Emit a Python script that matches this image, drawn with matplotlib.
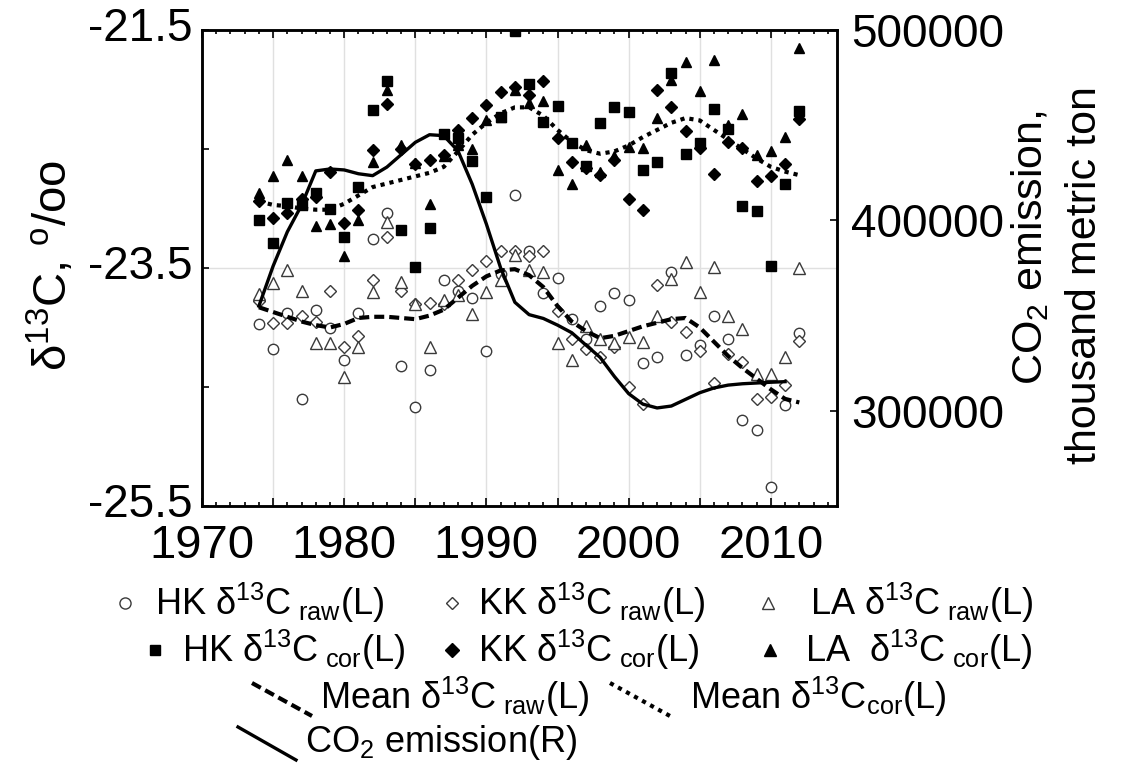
import numpy as np
import matplotlib
matplotlib.use('Agg')
import matplotlib.pyplot as plt
from matplotlib.lines import Line2D
from matplotlib.ticker import FixedLocator, FuncFormatter, MultipleLocator
from matplotlib.transforms import ScaledTranslation

plt.rcParams['font.family'] = ['Liberation Sans', 'DejaVu Sans']
plt.rcParams['mathtext.fontset'] = 'custom'
plt.rcParams['mathtext.rm'] = 'Liberation Sans'
plt.rcParams['mathtext.it'] = 'Liberation Sans:italic'
plt.rcParams['mathtext.bf'] = 'Liberation Sans:bold'

# ---------------- data ----------------
years = list(range(1974, 2013))

hk_raw = [-23.97, -24.18, -23.88, -24.60, -23.85, -24.00, -24.27, -23.88, -23.26, -23.04,
          -24.32, -24.67, -24.36, -23.60, -23.69, -23.75, -24.20, -23.55, -22.89, -23.36,
          -23.71, -23.58, -23.93, -24.10, -23.82, -23.71, -23.77, -24.30, -24.25, -23.53,
          -24.23, -24.15, -23.90, -24.10, -24.78, -24.86, -25.34, -24.65, -24.05]
kk_raw = [-23.78, -23.96, -23.96, -23.90, -23.95, -23.69, -24.16, -24.07, -23.60, -23.24,
          -23.69, -23.80, -23.79, -23.80, -23.60, -23.52, -23.44, -23.36, -23.36, -23.40,
          -23.36, -23.86, -24.10, -24.18, -24.25, -24.16, -24.50, -24.64, -23.64, -23.95,
          -24.04, -24.20, -24.47, -24.22, -24.29, -24.60, -24.58, -24.48, -24.11]
la_raw = [-23.72, -23.63, -23.52, -23.69, -24.13, -24.13, -24.42, -24.16, -23.70, -23.11,
          -23.62, -23.80, -24.16, -23.77, -23.73, -23.89, -23.70, -23.60, -23.39, -23.52,
          -23.53, -24.13, -24.27, -23.99, -24.10, -24.13, -24.08, -24.12, -23.90, -23.59,
          -23.45, -23.70, -23.49, -23.90, -24.01, -24.39, -24.39, -24.25, -23.50]

hk_cor = [-23.10, -23.29, -22.95, -22.97, -22.87, -23.00, -23.24, -22.82, -22.17, -21.93,
          -23.18, -23.49, -23.16, -22.37, -22.41, -22.60, -22.90, -22.23, -21.51, -21.95,
          -22.27, -22.14, -22.45, -22.64, -22.28, -22.15, -22.19, -22.68, -22.61, -21.86,
          -22.54, -22.45, -22.16, -22.33, -22.98, -23.02, -23.48, -22.79, -22.18]
kk_cor = [-22.94, -23.08, -23.04, -22.92, -22.90, -22.69, -23.12, -23.01, -22.51, -22.12,
          -22.50, -22.63, -22.59, -22.55, -22.34, -22.24, -22.13, -22.02, -21.98, -22.05,
          -21.93, -22.41, -22.61, -22.66, -22.72, -22.59, -22.92, -23.01, -22.00, -22.15,
          -22.35, -22.49, -22.71, -22.44, -22.49, -22.77, -22.73, -22.63, -22.25]
la_cor = [-22.87, -22.73, -22.59, -22.73, -23.15, -23.13, -23.40, -23.10, -22.61, -22.00,
          -22.47, -22.62, -22.96, -22.56, -22.47, -22.50, -22.26, -22.23, -22.00, -22.11,
          -22.10, -22.68, -22.79, -22.47, -22.69, -22.56, -22.48, -22.49, -22.24, -21.92,
          -21.77, -22.01, -21.75, -22.30, -22.21, -22.55, -22.52, -22.40, -21.65]

mean_raw = [-23.83, -23.87, -23.91, -23.95, -23.98, -24.00, -23.97, -23.92, -23.91, -23.91,
            -23.92, -23.93, -23.90, -23.85, -23.75, -23.65, -23.57, -23.52, -23.51, -23.56,
            -23.66, -23.82, -23.95, -24.03, -24.09, -24.07, -24.03, -23.99, -23.96, -23.93,
            -23.92, -24.00, -24.12, -24.24, -24.34, -24.43, -24.52, -24.60, -24.63]
mean_cor = [-22.94, -22.97, -22.98, -23.00, -23.01, -23.01, -22.96, -22.89, -22.82, -22.79,
            -22.76, -22.73, -22.70, -22.65, -22.52, -22.38, -22.28, -22.20, -22.15, -22.15,
            -22.22, -22.34, -22.44, -22.51, -22.54, -22.52, -22.47, -22.40, -22.34, -22.28,
            -22.24, -22.26, -22.34, -22.42, -22.50, -22.58, -22.65, -22.69, -22.72]

co2_years = list(range(1974, 2012))
co2 = [355000, 376000, 394000, 408000, 426000, 427000, 426500, 424500, 423500, 428000,
       434500, 441000, 445000, 444500, 436500, 419000, 398000, 375000, 357000, 350500,
       348500, 345000, 341000, 334500, 328000, 318000, 309000, 303500, 301500, 302500,
       306000, 309500, 312000, 313500, 314200, 314600, 315000, 315300]

# ---------------- figure ----------------
W, H = 1122, 764
fig = plt.figure(figsize=(W / 100, H / 100), dpi=100)
ax = fig.add_axes([202 / W, 1 - 506 / H, (837 - 202) / W, (506 - 30) / H])
ax2 = ax.twinx()

OPEN_EC = '#3a3a3a'
open_kw = dict(linestyle='none', mfc='white', mec=OPEN_EC, mew=1.0)
fill_kw = dict(linestyle='none', color='black')

ax.plot(years, hk_raw, marker='o', ms=7.5, zorder=3, **open_kw)
ax.plot(years, kk_raw, marker='D', ms=6.2, zorder=3, **open_kw)
ax.plot(years, la_raw, marker='^', ms=8, zorder=3, **open_kw)
ax.plot(years, hk_cor, marker='s', ms=7, zorder=4, **fill_kw)
ax.plot(years, kk_cor, marker='D', ms=6.5, zorder=4, **fill_kw)
ax.plot(years, la_cor, marker='^', ms=7.5, zorder=4, **fill_kw)

ax.plot(years, mean_raw, color='black', lw=3, dashes=(2.4, 1.2), zorder=5)
ax.plot(years, mean_cor, color='black', lw=3, dashes=(1.0, 1.2), zorder=5)

ax2.plot(co2_years, co2, color='black', lw=2.4, zorder=5)

ax.set_xlim(1970, 2014.65)
ax.set_ylim(-25.5, -21.5)
ax2.set_ylim(250000, 500000)

# ticks
ax.xaxis.set_major_locator(MultipleLocator(5))
ax.xaxis.set_minor_locator(MultipleLocator(1))
ax.xaxis.set_major_formatter(FuncFormatter(lambda v, p: f'{int(round(v))}' if int(round(v)) % 10 == 0 else ''))
ax.yaxis.set_major_locator(FixedLocator([-25.5, -23.5, -21.5]))
ax.yaxis.set_minor_locator(FixedLocator([-24.5, -22.5]))
ax.yaxis.set_major_formatter(FuncFormatter(lambda v, p: f'{v:.1f}'))
ax2.yaxis.set_major_locator(FixedLocator([300000, 400000, 500000]))
ax2.yaxis.set_major_formatter(FuncFormatter(lambda v, p: f'{int(v)}'))

ax.tick_params(axis='x', which='both', direction='in', top=True, labelsize=34, pad=13, width=1.2)
ax.tick_params(axis='x', which='major', length=6)
ax.tick_params(axis='x', which='minor', length=3)
ax.tick_params(axis='y', which='both', direction='in', right=False, labelsize=33, pad=7, width=1.2, length=5)
ax2.tick_params(axis='y', which='both', direction='in', labelsize=33, pad=10, width=1.2, length=5)

# nudge left tick labels slightly upward (keeps "-25.5" clear of "1970")
for lbl in ax.yaxis.get_majorticklabels():
    lbl.set_transform(lbl.get_transform() + ScaledTranslation(0, 4 / 72, fig.dpi_scale_trans))

ax.grid(True, which='major', color='#e0e0e0', lw=1.0)
ax.set_axisbelow(True)

for a in (ax, ax2):
    for s in a.spines.values():
        s.set_linewidth(1.8)
        s.set_color('black')

# axis labels
fig.text(52 / W, 1 - 265 / H, 'δ$^{13}$C, $^{\\mathrm{o}}$/oo', rotation=90,
         ha='center', va='center', fontsize=34)
fig.text(1030 / W, 1 - 248 / H, 'CO$_2$ emission,', rotation=90,
         ha='center', va='center', fontsize=31)
fig.text(1085 / W, 1 - 275 / H, 'thousand metric ton', rotation=90,
         ha='center', va='center', fontsize=31)

# ---------------- legend (manual) ----------------
def fx(px):
    return px / W

def fy(py):
    return 1 - py / H

LFS = 26

def mk(x, y, **kw):
    fig.add_artist(Line2D([fx(x)], [fy(y)], transform=fig.transFigure, linestyle='none', **kw))

def ln(x0, y0, x1, y1, **kw):
    fig.add_artist(Line2D([fx(x0), fx(x1)], [fy(y0), fy(y1)], transform=fig.transFigure,
                          color='black', **kw))

def tx(x, y, s):
    fig.text(fx(x), fy(y), s, ha='left', va='center', fontsize=LFS)

r1, r2, r3, r4 = 603, 650, 697, 742
mk(125, r1, marker='o', ms=8, mfc='white', mec=OPEN_EC, mew=1.0)
tx(155, r1, 'HK δ$^{13}$C$_{\\ \\mathrm{raw}}$(L)')
mk(452, r1, marker='D', ms=6.5, mfc='white', mec=OPEN_EC, mew=1.0)
tx(478, r1, 'KK δ$^{13}$C$_{\\ \\mathrm{raw}}$(L)')
mk(768, r1, marker='^', ms=8.5, mfc='white', mec=OPEN_EC, mew=1.0)
tx(810, r1, 'LA δ$^{13}$C$_{\\ \\mathrm{raw}}$(L)')

mk(155, r2, marker='s', ms=7.5, color='black')
tx(182, r2, 'HK δ$^{13}$C$_{\\ \\mathrm{cor}}$(L)')
mk(452, r2, marker='D', ms=7, color='black')
tx(478, r2, 'KK δ$^{13}$C$_{\\ \\mathrm{cor}}$(L)')
mk(770, r2, marker='^', ms=8, color='black')
tx(805, r2, 'LA  δ$^{13}$C$_{\\ \\mathrm{cor}}$(L)')

ln(252, 683, 312, 716, lw=3, dashes=(2.4, 1.2))
tx(320, r3, 'Mean δ$^{13}$C$_{\\ \\mathrm{raw}}$(L)')
ln(610, 683, 670, 716, lw=3, dashes=(1.0, 1.2))
tx(690, r3, 'Mean δ$^{13}$C$_{\\mathrm{cor}}$(L)')

ln(238, 727, 296, 760, lw=2.4)
tx(305, r4, 'CO$_2$ emission(R)')

fig.savefig('out.png', dpi=100)
